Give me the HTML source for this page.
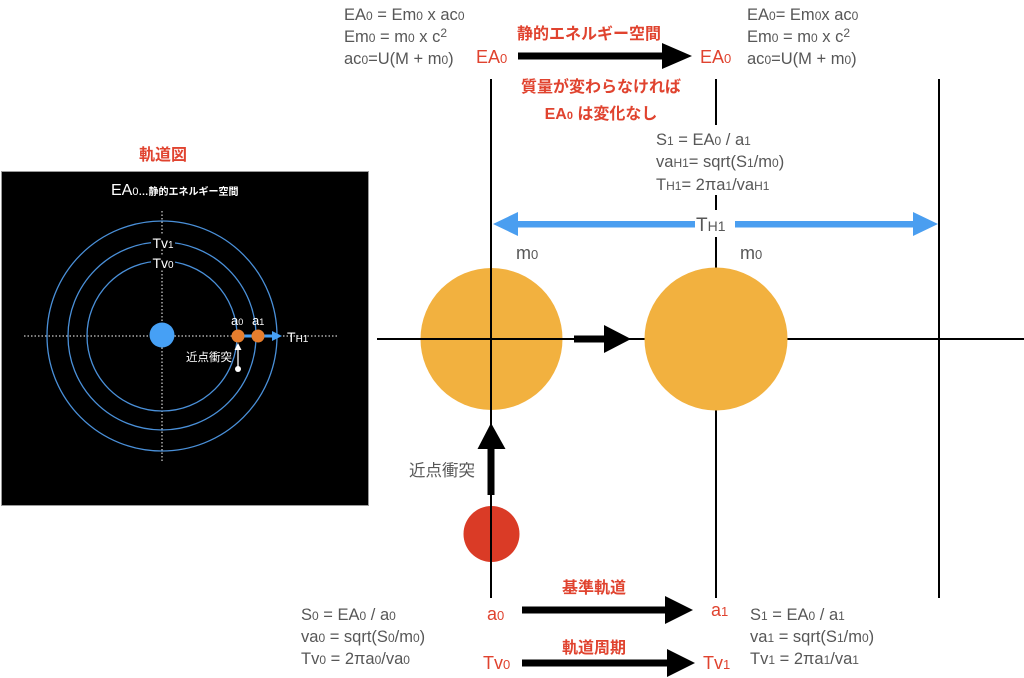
<!DOCTYPE html>
<html><head><meta charset="utf-8">
<style>
html,body{margin:0;padding:0;background:#fff;}
svg{display:block;}
text{font-family:"Liberation Sans","Noto Sans CJK JP",sans-serif;}
.g{fill:#575757;font-size:16.5px;}
.r{fill:#e0432f;font-size:18px;}
.rb{fill:#e0432f;font-size:16px;font-weight:bold;}
.w{fill:#fff;}
</style></head>
<body>
<svg width="1024" height="678" viewBox="0 0 1024 678" xmlns="http://www.w3.org/2000/svg">
<rect width="1024" height="678" fill="#fff"/>

<!-- ===== Orbit diagram ===== -->
<text x="163" y="160" text-anchor="middle" class="rb">軌道図</text>
<rect x="1.5" y="171.5" width="367" height="334" fill="#000" stroke="#9a9a9a" stroke-width="1"/>
<text x="111" y="195" class="w" style="font-size:16px">EA<tspan font-size="11">0</tspan><tspan font-size="10" font-weight="bold">…静的エネルギー空間</tspan></text>
<line x1="24" y1="336" x2="337" y2="336" stroke="#fff" stroke-width="1" stroke-dasharray="1.5,2"/>
<line x1="162" y1="211" x2="162" y2="463" stroke="#fff" stroke-width="1" stroke-dasharray="1.5,2"/>
<circle cx="162" cy="336" r="75" fill="none" stroke="#4a90d9" stroke-width="1.3"/>
<circle cx="162" cy="336" r="94" fill="none" stroke="#4a90d9" stroke-width="1.3"/>
<circle cx="162" cy="336" r="115" fill="none" stroke="#4a90d9" stroke-width="1.3"/>
<rect x="151" y="235" width="24" height="14" fill="#000"/>
<rect x="151" y="255" width="24" height="14" fill="#000"/>
<text x="163" y="248" text-anchor="middle" class="w" style="font-size:14px">Tv<tspan font-size="10">1</tspan></text>
<text x="163" y="268" text-anchor="middle" class="w" style="font-size:14px">Tv<tspan font-size="10">0</tspan></text>
<circle cx="162" cy="335" r="12.5" fill="#46a0f5"/>
<line x1="240" y1="336" x2="274" y2="336" stroke="#46a0f5" stroke-width="3"/>
<polygon points="272,331 282,336 272,341" fill="#46a0f5"/>
<circle cx="238" cy="336" r="6.5" fill="#e67e2e"/>
<circle cx="258" cy="336" r="6.5" fill="#e67e2e"/>
<text x="231" y="325" class="w" style="font-size:13px">a<tspan font-size="9">0</tspan></text>
<text x="252" y="325" class="w" style="font-size:13px">a<tspan font-size="9">1</tspan></text>
<text x="287" y="342" class="w" style="font-size:14px">T<tspan font-size="10">H1</tspan></text>
<line x1="238" y1="369" x2="238" y2="349" stroke="#fff" stroke-width="1.3"/>
<polygon points="234.5,350 238,343 241.5,350" fill="#fff"/>
<circle cx="238" cy="369" r="3" fill="#fff"/>
<text x="186" y="361" class="w" style="font-size:11.5px">近点衝突</text>

<!-- ===== Grid lines ===== -->
<line x1="491" y1="79" x2="491" y2="598" stroke="#000" stroke-width="2"/>
<line x1="716" y1="79" x2="716" y2="125" stroke="#000" stroke-width="2"/>
<line x1="716" y1="195" x2="716" y2="210" stroke="#000" stroke-width="2"/>
<line x1="716" y1="237" x2="716" y2="598" stroke="#000" stroke-width="2"/>
<line x1="939" y1="79" x2="939" y2="598" stroke="#000" stroke-width="2"/>
<line x1="377" y1="339" x2="1024" y2="339" stroke="#000" stroke-width="2"/>

<!-- circles -->
<circle cx="491.5" cy="339" r="71" fill="#f2b13f"/>
<line x1="491" y1="268" x2="491" y2="410" stroke="#000" stroke-width="2"/>
<line x1="420" y1="339" x2="563" y2="339" stroke="#000" stroke-width="2"/>
<circle cx="716" cy="339" r="71.5" fill="#f2b13f"/>
<circle cx="491.5" cy="534" r="28" fill="#da3b26"/>
<line x1="491" y1="500" x2="491" y2="598" stroke="#000" stroke-width="2"/>

<!-- black arrows -->
<rect x="574" y="335.5" width="32" height="7" fill="#000"/>
<polygon points="604,325 631,339 604,353" fill="#000"/>
<rect x="487.5" y="447" width="7" height="48" fill="#000"/>
<polygon points="477.5,449 491,423 505.5,449" fill="#000"/>
<rect x="518" y="52.5" width="146" height="7" fill="#000"/>
<polygon points="662,43 692,56 662,69" fill="#000"/>
<rect x="522" y="606.5" width="145" height="7" fill="#000"/>
<polygon points="665,596 693,610 665,624" fill="#000"/>
<rect x="522" y="659.5" width="147" height="7" fill="#000"/>
<polygon points="667,649 695,663 667,677" fill="#000"/>

<!-- blue arrow -->
<rect x="516" y="221" width="179" height="6.5" fill="#4a9ef0"/>
<rect x="735" y="221" width="180" height="6.5" fill="#4a9ef0"/>
<polygon points="518,212 493,224 518,236" fill="#4a9ef0"/>
<polygon points="913,212 938,224 913,236" fill="#4a9ef0"/>
<text x="696" y="231" class="g" style="font-size:19px">T<tspan font-size="14">H1</tspan></text>

<!-- top formulas -->
<text x="344" y="20" class="g">EA<tspan font-size="12">0</tspan> = Em<tspan font-size="12">0</tspan> x ac<tspan font-size="12">0</tspan></text>
<text x="344" y="42" class="g">Em<tspan font-size="12">0</tspan> = m<tspan font-size="12">0</tspan> x c<tspan font-size="12" dy="-5">2</tspan></text>
<text x="344" y="64" class="g">ac<tspan font-size="12">0</tspan>=U(M + m<tspan font-size="12">0</tspan>)</text>

<text x="747" y="20" class="g">EA<tspan font-size="12">0</tspan>= Em<tspan font-size="12">0</tspan>x ac<tspan font-size="12">0</tspan></text>
<text x="747" y="42" class="g">Em<tspan font-size="12">0</tspan> = m<tspan font-size="12">0</tspan> x c<tspan font-size="12" dy="-5">2</tspan></text>
<text x="747" y="64" class="g">ac<tspan font-size="12">0</tspan>=U(M + m<tspan font-size="12">0</tspan>)</text>

<text x="476" y="63" class="r">EA<tspan font-size="13">0</tspan></text>
<text x="700" y="63" class="r">EA<tspan font-size="13">0</tspan></text>
<text x="589" y="39" text-anchor="middle" class="rb">静的エネルギー空間</text>
<text x="601" y="92" text-anchor="middle" class="rb">質量が変わらなければ</text>
<text x="601" y="119" text-anchor="middle" class="rb">EA<tspan font-size="11">0</tspan> は変化なし</text>

<!-- middle right formulas -->
<text x="656" y="145" class="g">S<tspan font-size="12">1</tspan> = EA<tspan font-size="12">0</tspan> / a<tspan font-size="12">1</tspan></text>
<text x="656" y="167" class="g">va<tspan font-size="12">H1</tspan>= sqrt(S<tspan font-size="12">1</tspan>/m<tspan font-size="12">0</tspan>)</text>
<text x="656" y="190" class="g">T<tspan font-size="12">H1</tspan>= 2πa<tspan font-size="12">1</tspan>/va<tspan font-size="12">H1</tspan></text>

<!-- m0 labels -->
<text x="516" y="259" class="g" style="font-size:18px">m<tspan font-size="13">0</tspan></text>
<text x="740" y="259" class="g" style="font-size:18px">m<tspan font-size="13">0</tspan></text>

<text x="409" y="476" class="g" style="font-size:16.5px">近点衝突</text>

<!-- bottom -->
<text x="594" y="593" text-anchor="middle" class="rb">基準軌道</text>
<text x="594" y="653" text-anchor="middle" class="rb">軌道周期</text>
<text x="487" y="620" class="r">a<tspan font-size="13">0</tspan></text>
<text x="483" y="669" class="r">Tv<tspan font-size="13">0</tspan></text>
<text x="711" y="616" class="r">a<tspan font-size="13">1</tspan></text>
<text x="703" y="669" class="r">Tv<tspan font-size="13">1</tspan></text>

<text x="301" y="620" class="g">S<tspan font-size="12">0</tspan> = EA<tspan font-size="12">0</tspan> / a<tspan font-size="12">0</tspan></text>
<text x="301" y="642" class="g">va<tspan font-size="12">0</tspan> = sqrt(S<tspan font-size="12">0</tspan>/m<tspan font-size="12">0</tspan>)</text>
<text x="301" y="664" class="g">Tv<tspan font-size="12">0</tspan> = 2πa<tspan font-size="12">0</tspan>/va<tspan font-size="12">0</tspan></text>

<text x="750" y="620" class="g">S<tspan font-size="12">1</tspan> = EA<tspan font-size="12">0</tspan> / a<tspan font-size="12">1</tspan></text>
<text x="750" y="642" class="g">va<tspan font-size="12">1</tspan> = sqrt(S<tspan font-size="12">1</tspan>/m<tspan font-size="12">0</tspan>)</text>
<text x="750" y="664" class="g">Tv<tspan font-size="12">1</tspan> = 2πa<tspan font-size="12">1</tspan>/va<tspan font-size="12">1</tspan></text>
</svg>
</body></html>
